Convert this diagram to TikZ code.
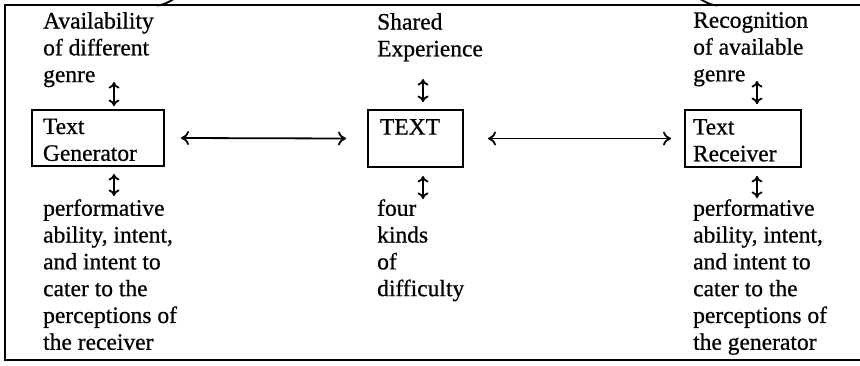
\documentclass[tikz,border=0pt]{standalone}
\usepackage{fontspec}
\setmainfont{Liberation Serif}[FakeBold=0.7]
\usetikzlibrary{arrows.meta}

\tikzset{
  every node/.style={font=\fontsize{23.5}{26.8}\selectfont},
  label text/.style={inner sep=0pt, align=left, anchor=north west},
  boxnode/.style={draw, line width=1.9pt, align=left, minimum height=56pt,
                  inner ysep=0pt},
  link/.style={line width=1.8pt,
               {To[length=8pt,width=14pt]}-{To[length=8pt,width=14pt]}},
  updown/.style={line width=1.8pt,
               {To[length=6.5pt,width=11pt]}-{To[length=6.5pt,width=11pt]}},
  frame/.style={line width=1.8pt}
}

\newcommand{\boxstrut}{\rule{0pt}{19pt}}

\begin{document}
\begin{tikzpicture}[x=1pt,y=1pt]
  \useasboundingbox (0,0) rectangle (860,-365);
  \clip (0,0) rectangle (860,-365);
  \fill[white] (0,0) rectangle (860,-365);

  % surrounding frame, open to the right
  \draw[frame] (870,-5) -- (5,-5) -- (5,-360) -- (870,-360);
  % ends of the bracing curve above the frame
  \draw[frame] (157,-5.5) .. controls (165,-4.5) and (169,-2) .. (177,3);
  \draw[frame] (697,3) .. controls (705,-2) and (709,-4.5) .. (717,-5.5);

  % the three boxes
  \node[boxnode, inner xsep=11pt, text width=110pt] (gen) at (98,-138)
    {\boxstrut Text\\Generator};
  \node[boxnode, inner xsep=12pt, text width=71pt, minimum height=57pt] (txt) at (415.5,-138.5)
    {\boxstrut TEXT\\\mbox{}};
  \node[boxnode, inner xsep=8pt, text width=100pt, minimum height=57pt] (rec) at (743,-138.5)
    {\boxstrut Text\\Receiver};

  % labels above
  \node[label text] (avail) at (43,-12) {Availability\\of different\\genre};
  \node[label text] (shared) at (377,-13) {Shared\\Experience};
  \node[label text] (recog) at (693,-12) {Recognition\\of available\\genre};

  % labels below
  \node[label text] (perfg) at (43,-199)
    {performative\\ability, intent,\\and intent to\\cater to the\\perceptions of\\the receiver};
  \node[label text] (four) at (377,-199) {four\\kinds\\of\\difficulty};
  \node[label text] (perfr) at (693,-199)
    {performative\\ability, intent,\\and intent to\\cater to the\\perceptions of\\the generator};

  % horizontal links between the boxes
  \draw[link] ([xshift=16pt]gen.east) -- ([xshift=-21pt]txt.west);
  \draw[link] ([xshift=24pt]txt.east) -- ([xshift=-13pt]rec.west);

  % vertical two-way arrows
  \draw[updown] ([xshift=16pt,yshift=3pt]gen.north) -- ([xshift=16pt,yshift=27pt]gen.north);
  \draw[updown] ([xshift=16pt,yshift=-7pt]gen.south) -- ([xshift=16pt,yshift=-29pt]gen.south);
  \draw[updown] ([xshift=7.5pt,yshift=7pt]txt.north) -- ([xshift=7.5pt,yshift=30pt]txt.north);
  \draw[updown] ([xshift=7.5pt,yshift=-8pt]txt.south) -- ([xshift=7.5pt,yshift=-31pt]txt.south);
  \draw[updown] ([xshift=14pt,yshift=5pt]rec.north) -- ([xshift=14pt,yshift=28pt]rec.north);
  \draw[updown] ([xshift=14pt,yshift=-8pt]rec.south) -- ([xshift=14pt,yshift=-30pt]rec.south);
\end{tikzpicture}
\end{document}
